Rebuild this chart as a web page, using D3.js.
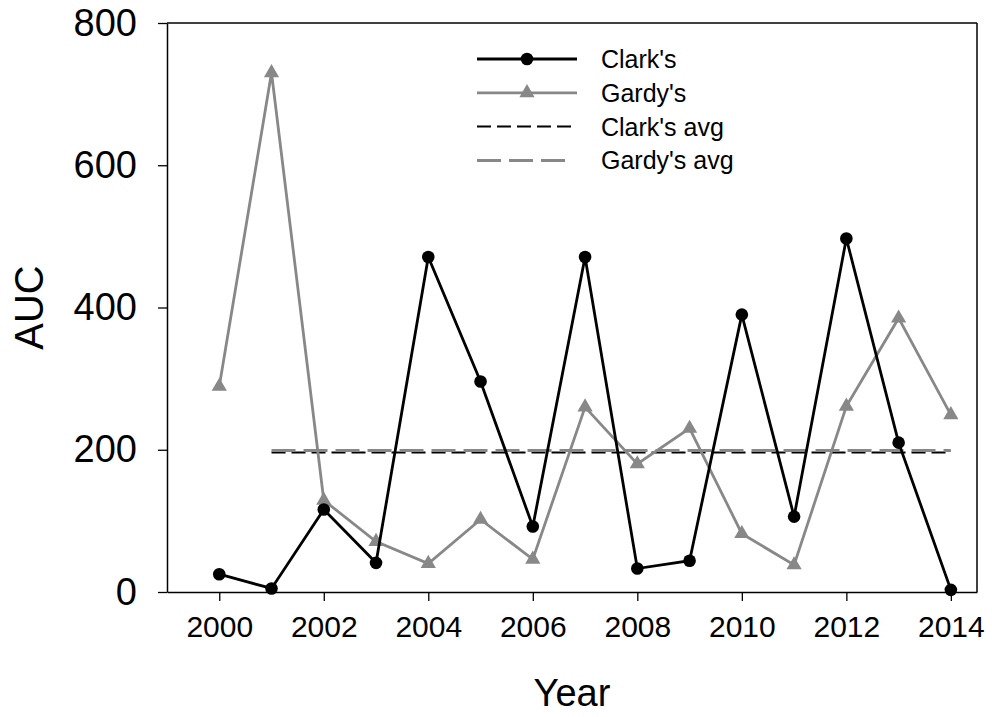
<!DOCTYPE html>
<html>
<head>
<meta charset="utf-8">
<script src="https://cdn.jsdelivr.net/npm/d3@7"></script>
<style>
  html, body { margin: 0; padding: 0; background: #fff; }
  svg { display: block; font-family: "Liberation Sans", Arial, sans-serif; }
</style>
</head>
<body>
<svg id="chart" width="992" height="717"></svg>
<script>
const years = [2000, 2001, 2002, 2003, 2004, 2005, 2006, 2007, 2008, 2009, 2010, 2011, 2012, 2013, 2014];
const clarks = [25, 5, 116, 41, 471, 296, 92, 471, 33, 44, 390, 106, 497, 210, 3];
const gardys = [289, 730, 129, 71, 40, 102, 46, 260, 180, 230, 82, 38, 261, 385, 249];
const avgYears = [2001, 2014];
const clarksAvg = [196, 196];
const gardysAvg = [199, 199];
const xTicks = [2000, 2002, 2004, 2006, 2008, 2010, 2012, 2014];
const yTicks = [0, 200, 400, 600, 800];
const legendLabels = ["Clark's", "Gardy's", "Clark's avg", "Gardy's avg"];

const BLACK = "#000000", GRAY = "#888888";
const svg = d3.select("#chart");
const L = 167, R = 977, T = 23, B = 592;

const x = d3.scaleLinear().domain([1999, 2014.5]).range([L, R]);
const y = d3.scaleLinear().domain([0, 800]).range([B, T]);

// frame (top & right)
svg.append("line").attr("x1", L).attr("x2", R).attr("y1", T).attr("y2", T)
  .attr("stroke", "#000").attr("stroke-width", 1.5);
svg.append("line").attr("x1", R).attr("x2", R).attr("y1", T).attr("y2", B)
  .attr("stroke", "#000").attr("stroke-width", 1.5);

// axes
const xAxis = svg.append("g").attr("transform", `translate(0,${B})`)
  .call(d3.axisBottom(x).tickValues(xTicks).tickFormat(d3.format("d")).tickSize(9).tickSizeOuter(0).tickPadding(15));
xAxis.select(".domain").attr("stroke-width", 1.5);
xAxis.selectAll(".tick line").attr("stroke-width", 1.3);
xAxis.selectAll("text").attr("font-size", 30).attr("font-family", "Liberation Sans, Arial, sans-serif").attr("fill", "#000");

const yAxis = svg.append("g").attr("transform", `translate(${L},0)`)
  .call(d3.axisLeft(y).tickValues(yTicks).tickFormat(d3.format("d")).tickSize(9).tickSizeOuter(0).tickPadding(21));
yAxis.select(".domain").attr("stroke-width", 1.5);
yAxis.selectAll(".tick line").attr("stroke-width", 1.3);
yAxis.selectAll("text").attr("font-size", 38).attr("font-family", "Liberation Sans, Arial, sans-serif").attr("fill", "#000");

// axis titles
svg.append("text").attr("x", (L + R) / 2).attr("y", 706)
  .attr("text-anchor", "middle").attr("font-size", 38).text("Year");
svg.append("text").attr("transform", `translate(43,${(T + B) / 2}) rotate(-90)`)
  .attr("text-anchor", "middle").attr("font-size", 40).text("AUC");

const line = d3.line().x(d => x(d[0])).y(d => y(d[1]));

// average lines
svg.append("path").datum(avgYears.map((v, i) => [v, clarksAvg[i]]))
  .attr("d", line).attr("fill", "none").attr("stroke", BLACK)
  .attr("stroke-width", 2).attr("stroke-dasharray", "14,6");
svg.append("path").datum(avgYears.map((v, i) => [v, gardysAvg[i]]))
  .attr("d", line).attr("fill", "none").attr("stroke", GRAY)
  .attr("stroke-width", 3).attr("stroke-dasharray", "24,8");

// Gardy's series
const gData = years.map((v, i) => [v, gardys[i]]);
svg.append("path").datum(gData).attr("d", line)
  .attr("fill", "none").attr("stroke", GRAY).attr("stroke-width", 2.8);
const tri = d3.symbol().type(d3.symbolTriangle).size(100);
svg.append("g").selectAll("path").data(gData).join("path")
  .attr("d", tri).attr("transform", d => `translate(${x(d[0])},${y(d[1])})`)
  .attr("fill", GRAY);

// Clark's series
const cData = years.map((v, i) => [v, clarks[i]]);
svg.append("path").datum(cData).attr("d", line)
  .attr("fill", "none").attr("stroke", BLACK).attr("stroke-width", 2.8);
svg.append("g").selectAll("circle").data(cData).join("circle")
  .attr("cx", d => x(d[0])).attr("cy", d => y(d[1])).attr("r", 6.3).attr("fill", BLACK);

// legend
const lg = svg.append("g");
const lx1 = 477, lx2 = 577, ltx = 601, ly0 = 59, ldy = 33.8;
legendLabels.forEach((lab, i) => {
  const yy = ly0 + i * ldy;
  const ln = lg.append("line").attr("x1", lx1).attr("x2", lx2).attr("y1", yy).attr("y2", yy);
  if (i === 0) {
    ln.attr("stroke", BLACK).attr("stroke-width", 2.8);
    lg.append("circle").attr("cx", (lx1 + lx2) / 2).attr("cy", yy).attr("r", 6.3).attr("fill", BLACK);
  } else if (i === 1) {
    ln.attr("stroke", GRAY).attr("stroke-width", 2.8);
    lg.append("path").attr("d", tri).attr("transform", `translate(${(lx1 + lx2) / 2},${yy})`).attr("fill", GRAY);
  } else if (i === 2) {
    ln.attr("stroke", BLACK).attr("stroke-width", 2).attr("stroke-dasharray", "14,6");
  } else {
    ln.attr("x2", lx2 - 10).attr("stroke", GRAY).attr("stroke-width", 3).attr("stroke-dasharray", "24,8");
  }
  lg.append("text").attr("x", ltx).attr("y", yy).attr("dy", "0.36em")
    .attr("font-size", 25).attr("fill", "#000").text(lab);
});
</script>
</body>
</html>
